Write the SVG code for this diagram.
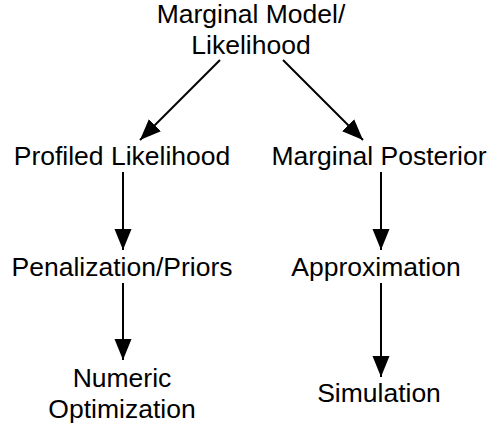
<svg xmlns="http://www.w3.org/2000/svg" width="489" height="425" viewBox="0 0 489 425">
<defs>
<style>
text{font-family:"Liberation Sans",Arial,Helvetica,sans-serif;font-size:26.5px;fill:#000;text-anchor:middle}
.e{stroke:#000;stroke-width:2;fill:none;marker-end:url(#ah)}
</style>
<marker id="ah" markerUnits="userSpaceOnUse" markerWidth="22" markerHeight="18" refX="21" refY="8.5" orient="auto">
<path d="M0,0 L21,8.5 L0,17 Z" fill="#000"/>
</marker>
</defs>
<rect width="489" height="425" fill="#fff"/>
<g id="connectors">
<line class="e" x1="220" y1="60" x2="140" y2="140"/>
<line class="e" x1="283" y1="60" x2="363" y2="140"/>
<line class="e" x1="123" y1="172" x2="123" y2="250"/>
<line class="e" x1="381" y1="172" x2="381" y2="250"/>
<line class="e" x1="123" y1="283" x2="123" y2="360"/>
<line class="e" x1="381" y1="283" x2="381" y2="377"/>
</g>
<g id="marginal"><text x="251" y="23">Marginal Model/</text><text x="251" y="54">Likelihood</text></g>
<g id="profiled"><text x="122" y="165">Profiled Likelihood</text></g>
<g id="posterior"><text x="379" y="165">Marginal Posterior</text></g>
<g id="penalization"><text x="122" y="276">Penalization/Priors</text></g>
<g id="approximation"><text x="376" y="276">Approximation</text></g>
<g id="numeric"><text x="122" y="387">Numeric</text><text x="122" y="418">Optimization</text></g>
<g id="simulation"><text x="379" y="402">Simulation</text></g>
</svg>
